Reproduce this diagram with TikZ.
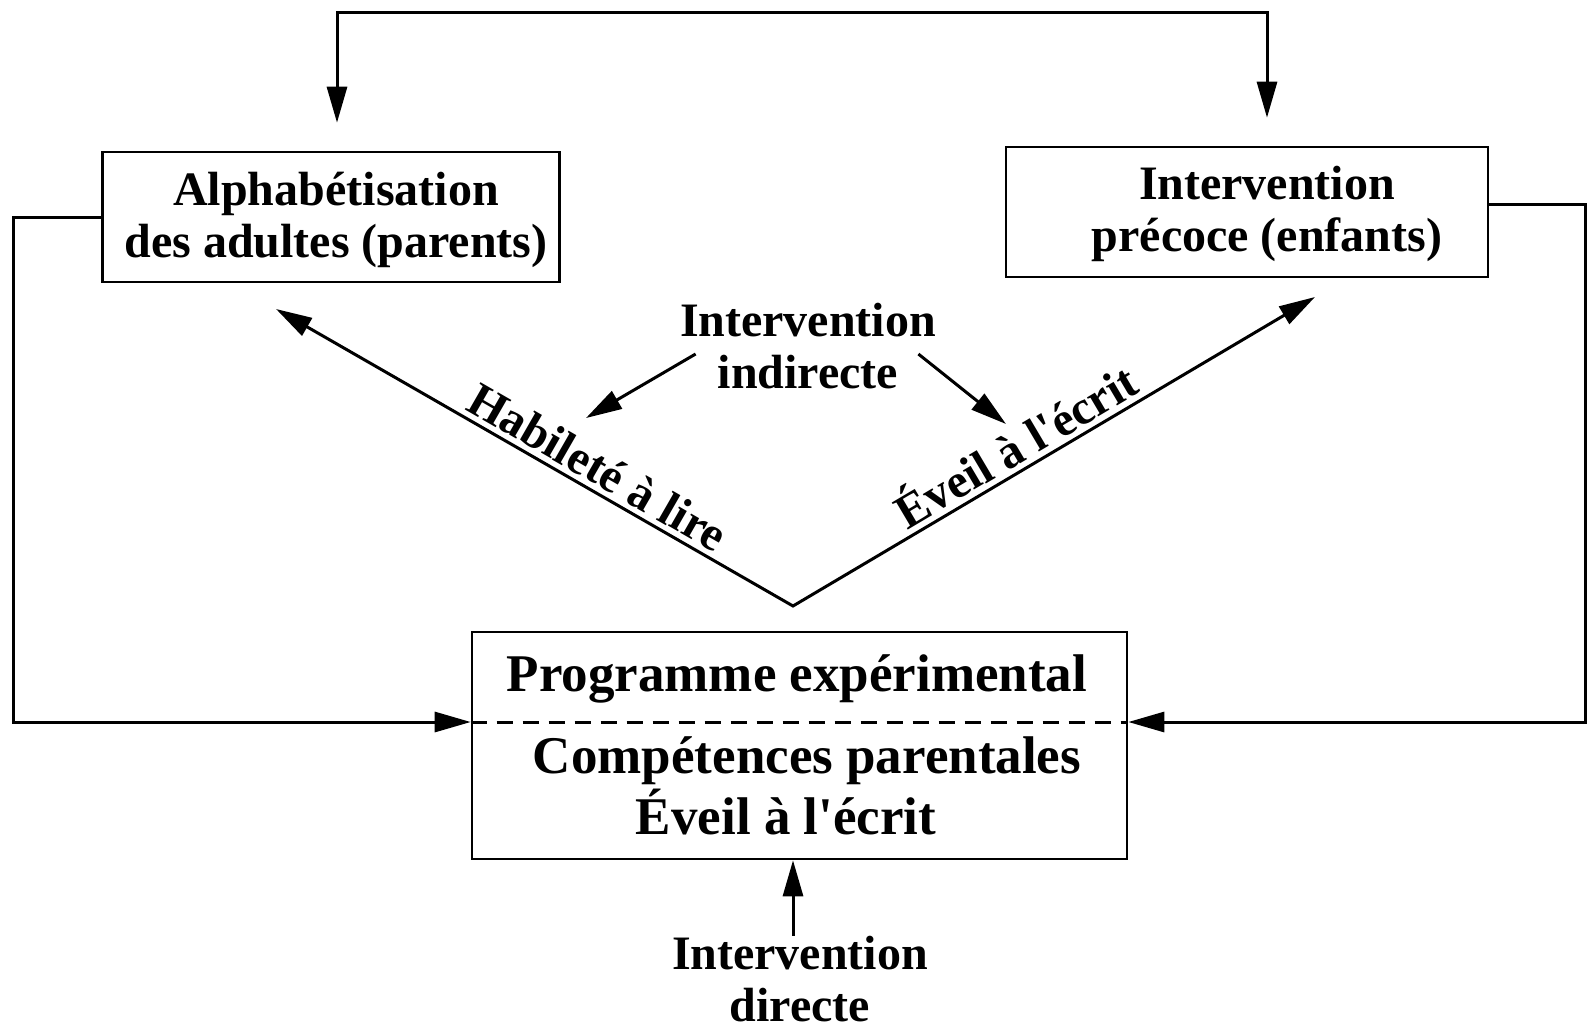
\documentclass[tikz,border=0pt]{standalone}
\usepackage{fontspec}
\setmainfont{Liberation Serif}[Ligatures=TeXOff]
\usetikzlibrary{arrows.meta}

\begin{document}
\begin{tikzpicture}[x=0.5pt,y=-0.5pt,
  txt/.style={font=\fontsize{24}{26}\selectfont\bfseries, align=center, inner sep=0pt},
  big/.style={font=\fontsize{26.5}{30.5}\selectfont\bfseries},
  boxed/.style={draw, line width=1.3pt},
  arr/.style={line width=1.5pt, -{Triangle[length=18pt,width=10pt]}},
  dbl/.style={line width=1.5pt, {Triangle[length=18pt,width=10pt]}-{Triangle[length=18pt,width=10pt]}}]
\useasboundingbox (0,0) rectangle (1589,1034);
\node[boxed, minimum width=228.5pt, minimum height=65pt] (alpha) at (331,217) {};
\node[txt] (alphatxt) at (336,220) {Alphabétisation\\des adultes (parents)};
\node[boxed, minimum width=241pt, minimum height=65pt] (precoce) at (1247,212) {};
\node[txt] (precocetxt) at (1267,214) {Intervention\\précoce (enfants)};
\node[boxed, minimum width=327.5pt, minimum height=113.5pt] (prog) at (799.5,745.5) {};
\node[txt, big] (progtxt) at (797,679) {Programme expérimental};
\node[txt, big, anchor=base] (comp) at (807,773) {Compétences parentales};
\node[txt, big, anchor=base] (eveil) at (786,834) {Éveil à l'écrit};
\node[txt] (indir) at (808,346) {Intervention\\indirecte};
\node[txt] (dir) at (800,979) {Intervention\\directe};
\coordinate (al) at (337,12);
\coordinate (pr) at (1267,12);
\coordinate (mid) at (0,722);
\coordinate (dl) at (prog.west |- mid);
\coordinate (dr) at (prog.east |- mid);
\coordinate (ht) at (276,309);
\coordinate (v) at (793,606);
\coordinate (et) at (1315,297);
\coordinate (hab) at (586,418);
\coordinate (eve) at (1006,424);
\draw[dbl] ([yshift=14pt]alpha.north -| al) -- (al) -- (pr) -- ([yshift=14pt]precoce.north -| pr);
\draw[arr] (alpha.west) -- ++(-88,0) |- (dl);
\draw[arr] ([yshift=4pt]precoce.east) -- ++(96,0) |- (dr);
\draw[line width=1.5pt, dash pattern=on 8pt off 5pt] (dl) -- (dr);
\draw[dbl, line join=miter] (ht) -- node[txt, sloped, above, pos=0.6, inner sep=2.5pt] {Habileté à lire} (v)
  -- node[txt, sloped, above, pos=0.45, inner sep=2.5pt] {Éveil à l'écrit} (et);
\draw[arr] ([xshift=8pt,yshift=-4pt]indir.west) -- (hab);
\draw[arr] ([xshift=-9pt,yshift=-4pt]indir.east) -- (eve);
\draw[arr] ([xshift=-3.5pt]dir.north) -- ([xshift=-3.5pt]dir.north |- prog.south);
\end{tikzpicture}
\end{document}
